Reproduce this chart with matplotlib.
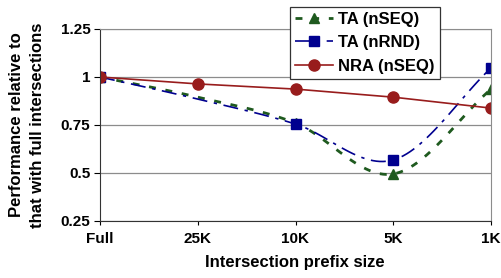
import numpy as np
import matplotlib
matplotlib.use('Agg')
import matplotlib.pyplot as plt

plt.rcParams['font.family'] = ['Liberation Sans', 'DejaVu Sans']
plt.rcParams['font.weight'] = 'bold'

# data
sizes = ['Full', '25K', '10K', '5K', '1K']
ta_nseq = [1.0, 0.895, 0.76, 0.495, 0.937]
ta_nrnd = [1.0, 0.885, 0.755, 0.568, 1.047]
nra_nseq = [1.0, 0.964, 0.937, 0.895, 0.838]


def smooth(xs, ys, n=30):
    # catmull-rom curve through the points (like the "smoothed line" option)
    xs = np.asarray(xs, float)
    ys = np.asarray(ys, float)
    px = np.concatenate([[2 * xs[0] - xs[1]], xs, [2 * xs[-1] - xs[-2]]])
    py = np.concatenate([[2 * ys[0] - ys[1]], ys, [2 * ys[-1] - ys[-2]]])
    out_x, out_y = [], []
    t = np.linspace(0, 1, n)
    for i in range(1, len(px) - 2):
        for p, out in ((px, out_x), (py, out_y)):
            p0, p1, p2, p3 = p[i - 1], p[i], p[i + 1], p[i + 2]
            out.extend(0.5 * (2 * p1 + (-p0 + p2) * t
                              + (2 * p0 - 5 * p1 + 4 * p2 - p3) * t ** 2
                              + (-p0 + 3 * p1 - 3 * p2 + p3) * t ** 3))
    return out_x, out_y


green = '#1f5a1f'
blue = '#00008f'
red = '#981c1c'

fig = plt.figure(figsize=(5.01, 2.78), dpi=100)
ax = fig.add_axes([100 / 501, 57 / 278, 391 / 501, 192 / 278])
x = np.arange(len(sizes))

sx, sy = smooth(x, ta_nseq)
ax.plot(sx, sy, color=green, lw=2, dashes=(2.5, 3.5))
sx, sy = smooth(x, ta_nrnd)
ax.plot(sx, sy, color=blue, lw=1.2, dashes=(9, 4, 2, 4))
ax.plot(x, nra_nseq, color=red, lw=1.2)

keep = [0, 2, 3, 4]
ax.plot(x[keep], np.array(ta_nseq)[keep], ls='none', marker='^', ms=7, color=green)
ax.plot(x[keep], np.array(ta_nrnd)[keep], ls='none', marker='s', ms=7, color=blue)
ax.plot(x, nra_nseq, ls='none', marker='o', ms=8, color=red)

# legend proxies
h1, = ax.plot([], [], color=green, lw=2, dashes=(2.5, 3.5), marker='^', ms=7)
h2, = ax.plot([], [], color=blue, lw=1.2, dashes=(9, 4, 2, 4), marker='s', ms=7)
h3, = ax.plot([], [], color=red, lw=1.2, marker='o', ms=8)

ax.set_xlim(0, 4)
ax.set_ylim(0.25, 1.25)
ax.set_yticks([0.25, 0.5, 0.75, 1, 1.25])
ax.set_yticklabels(['0.25', '0.5', '0.75', '1', '1.25'])
ax.set_xticks(x)
ax.set_xticklabels(sizes)
ax.tick_params(axis='both', labelsize=11, colors='black', width=0.8)
ax.tick_params(axis='y', length=4, pad=3)
ax.tick_params(axis='x', length=3, pad=5)
for lab in ax.get_xticklabels() + ax.get_yticklabels():
    lab.set_fontweight('bold')
ax.set_axisbelow(True)
ax.grid(axis='y', color='#8c8c8c', lw=0.9)
ax.spines['left'].set_color('#333333')
ax.spines['bottom'].set_color('#333333')
ax.spines['top'].set_color('#8c8c8c')
ax.spines['right'].set_color('#8c8c8c')

leg = fig.legend([h1, h2, h3], ['TA (nSEQ)', 'TA (nRND)', 'NRA (nSEQ)'],
                 loc='upper left', bbox_to_anchor=(290 / 501, 1 - 7 / 278),
                 borderaxespad=0, fancybox=False, framealpha=1,
                 prop={'size': 12, 'weight': 'bold'}, handlelength=2.3,
                 handletextpad=0.3, labelspacing=0.5, borderpad=0.3)
leg.get_frame().set_edgecolor('#333333')
leg.get_frame().set_linewidth(0.9)

fig.text(27 / 501, 1 - 125 / 278, 'Performance relative to\nthat with full intersections',
         rotation=90, ha='center', va='center', multialignment='center',
         fontsize=12, fontweight='bold', linespacing=1.5)
fig.text(295 / 501, 1 - 262 / 278, 'Intersection prefix size',
         ha='center', va='center', fontsize=12, fontweight='bold')

fig.savefig('out.png', dpi=100)
